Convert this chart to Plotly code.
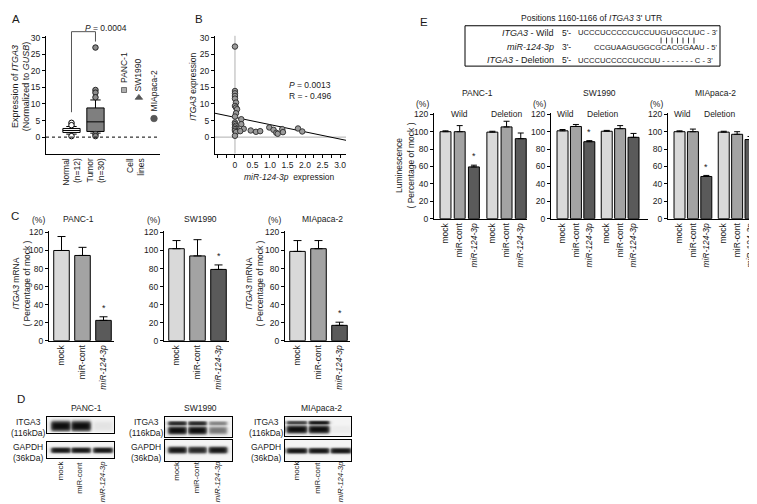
import plotly.graph_objects as go
import numpy as np

W, H = 757, 504
FONT = "Liberation Sans, Arial, sans-serif"
TXT = "#1a1a1a"
FS = 8.5

# ---------------- Panel A data ----------------
box_pos = [1, 2]
box_q1 = [1.4, 1.7]
box_median = [2.0, 4.6]
box_q3 = [2.6, 8.8]
box_lower = [0.9, 1.2]
box_upper = [3.2, 11.2]
normal_outliers = [4.3, 3.6, 0.3]
tumor_outliers = [27.0, 14.2, 13.4, 12.0, 0.9, 0.3]
a_ticks = ["Normal<br>(n=12)", "Tumor<br>(n=30)", "Cell<br>lines"]
cell_lines = ["PANC-1", "SW1990", "MIApaca-2"]
cell_x = [3.19, 3.81, 4.44]
cell_values = [14.2, 11.9, 5.6]
p_value_A = "0.0004"

# ---------------- Panel B data ----------------
mir_expr = [0, 0, 0, 0, 0, 0.03, 0, 0.03, 0.06, 0.03, 0, 0.18, 0, 0, 0.02, 0.18, 0, 0.05, 0, 0,
            0.25, 0.03, 0.15, 0, 0.45, 0.6, 0.72, 0.98, 1.1, 1.18, 1.22, 1.35, 1.37, 1.8, 1.92]
itga3_expr = [27.3, 13.9, 13.2, 12.4, 11.6, 10.4, 9.4, 8.9, 8.4, 7.2, 6.2, 5.4, 4.4, 3.9, 3.4, 3.9,
              2.9, 2.5, 2.4, 1.9, 2.5, 1.5, 1.8, 0.4, 2.0, 1.6, 1.8, 2.9, 2.2, 1.3, 1.0, 2.4, 1.5, 2.6, 1.7]
reg_intercept = 5.95
reg_slope = -2.18
p_value_B = "0.0013"
r_value_B = "- 0.496"

# ---------------- Panel C data ----------------
treatments = ["mock", "miR-cont", "<i>miR-124-3p</i>"]
lines_c = ["PANC-1", "SW1990", "MIApaca-2"]
c_mean = [[100, 94.5, 22.5], [102, 94, 79], [99, 102, 17]]
c_err = [[15.5, 9, 4], [9, 18, 5], [12, 9, 3.5]]

# ---------------- Panel D data (band intensities per lane) ----------------
blot_panc_itga3 = [1.0, 1.0, 0.06]
blot_panc_gapdh = [0.95, 0.95, 0.95]
blot_sw_itga3_upper = [0.85, 0.85, 0.4]
blot_sw_itga3_lower = [1.0, 1.0, 0.45]
blot_sw_gapdh = [0.95, 0.85, 0.95]
blot_mia_itga3_upper = [0.7, 0.95, 0.0]
blot_mia_itga3_lower = [1.0, 1.0, 0.03]
blot_mia_gapdh = [0.95, 0.95, 0.95]
lane_labels = ["mock", "miR-cont", "<i>miR-124-3p</i>"]

# ---------------- Panel E data ----------------
e_groups = ["Wild", "Deletion"]
e_panc_mean = [100, 100, 59.5, 99.5, 105.5, 92]
e_panc_err = [1, 7, 2, 1, 6.5, 6.5]
e_sw_mean = [101, 106, 88.5, 100.5, 103.5, 93.5]
e_sw_err = [1.5, 2.3, 1.2, 1, 3.5, 4.5]
e_mia_mean = [100, 100, 48.5, 99.5, 97, 91]
e_mia_err = [1, 3, 1.2, 1, 3, 3.5]
seq_wild = "UCCCUCCCCCUCCUUGUGCCUUC"
seq_mir = "CCGUAAGUGGCGCACGGAAU"
seq_del = "UCCCUCCCCCUCCUU - - - - - - - C"
seed_start, seed_len = 15, 7   # positions 1160-1166 inside the wild sequence

bar_colors = ["#d9d9d9", "#a3a3a3", "#5a5a5a"]

# ======================================================================
fig = go.Figure()
layout = dict(width=W, height=H, margin=dict(l=0, r=0, t=0, b=0),
              paper_bgcolor="white", plot_bgcolor="white", showlegend=False,
              font=dict(family=FONT, size=FS, color=TXT))
annotations = []
shapes = []

BASE = dict(showline=True, linecolor="black", linewidth=1.3, ticks="outside", ticklen=3,
            tickwidth=1, tickcolor="black", showgrid=False, zeroline=False,
            tickfont=dict(size=FS, family=FONT, color=TXT), fixedrange=True)


def set_axes(n, xpx, ypx, xr, yr, xkw=None, ykw=None):
    xn = "xaxis" if n == 1 else f"xaxis{n}"
    yn = "yaxis" if n == 1 else f"yaxis{n}"
    xid = "x" if n == 1 else f"x{n}"
    yid = "y" if n == 1 else f"y{n}"
    xa = dict(BASE, domain=[xpx[0] / W, xpx[1] / W], range=xr, anchor=yid)
    ya = dict(BASE, domain=[1 - ypx[1] / H, 1 - ypx[0] / H], range=yr, anchor=xid)
    xa.update(xkw or {})
    ya.update(ykw or {})
    layout[xn] = xa
    layout[yn] = ya
    return xid, yid


def px2paper(px, py):
    return px / W, 1 - py / H


def data2paper_x(n, v):
    xa = layout["xaxis" if n == 1 else f"xaxis{n}"]
    d0, d1 = xa["domain"]
    r0, r1 = xa["range"]
    return d0 + (v - r0) / (r1 - r0) * (d1 - d0)


def data2paper_y(n, v):
    ya = layout["yaxis" if n == 1 else f"yaxis{n}"]
    d0, d1 = ya["domain"]
    r0, r1 = ya["range"]
    return d0 + (v - r0) / (r1 - r0) * (d1 - d0)


def text(px, py, s, size=FS, xanchor="center", yanchor="middle", angle=0, align="center"):
    x, y = px2paper(px, py)
    annotations.append(dict(x=x, y=y, xref="paper", yref="paper", text=s, showarrow=False,
                            xanchor=xanchor, yanchor=yanchor, textangle=angle, align=align,
                            font=dict(size=size, family=FONT, color=TXT)))


# ---------------- Panel A ----------------
xa, ya = set_axes(1, (38, 152), (25, 145), [-0.0625, 4.69], [-5, 30.6],
                  xkw=dict(tickvals=[1, 2, 3.69], ticktext=a_ticks, tickangle=-90, ticks=""),
                  ykw=dict(tickvals=[0, 5, 10, 15, 20, 25, 30]))
fills = ["white", "#7f7f7f"]
for i in range(2):
    fig.add_trace(go.Box(x=[box_pos[i]], q1=[box_q1[i]], median=[box_median[i]], q3=[box_q3[i]],
                         lowerfence=[box_lower[i]], upperfence=[box_upper[i]], width=0.72,
                         whiskerwidth=0.6, fillcolor=fills[i], line=dict(color="black", width=1),
                         boxpoints=False, xaxis=xa, yaxis=ya, hoverinfo="skip"))
fig.add_trace(go.Scatter(x=[box_pos[0]] * len(normal_outliers), y=normal_outliers, mode="markers",
                         marker=dict(size=5.5, color="white", line=dict(color="black", width=1)),
                         xaxis=xa, yaxis=ya))
fig.add_trace(go.Scatter(x=[box_pos[1]] * len(tumor_outliers), y=tumor_outliers, mode="markers",
                         marker=dict(size=5.5, color="#8c8c8c", line=dict(color="#222", width=1)),
                         xaxis=xa, yaxis=ya))
fig.add_trace(go.Scatter(x=cell_x, y=cell_values, mode="markers",
                         marker=dict(size=[5, 6.5, 6.5], symbol=["square", "triangle-up", "circle"],
                                     color=["#8c8c8c", "#111", "#111"],
                                     line=dict(color="#111", width=0.8)),
                         xaxis=xa, yaxis=ya))
for cx, cv, nm in zip(cell_x, cell_values, cell_lines):
    annotations.append(dict(x=cx, y=cv + 1.4, xref=xa, yref=ya, text=nm, showarrow=False,
                            textangle=-90, xanchor="center", yanchor="bottom",
                            font=dict(size=FS, family=FONT, color=TXT)))
shapes.append(dict(type="line", xref=xa, yref=ya, x0=-0.0625, x1=4.69, y0=0, y1=0,
                   line=dict(color="black", width=1, dash="dot")))
# significance bracket
bx1, bx2 = data2paper_x(1, box_pos[0]), data2paper_x(1, box_pos[1])
by_top = px2paper(0, 21)[1]
shapes.append(dict(type="path", xref="paper", yref="paper",
                   path=f"M{bx1},{data2paper_y(1, 7.5)} L{bx1},{by_top} L{bx2},{by_top} L{bx2},{data2paper_y(1, 28.8)}",
                   line=dict(color="#555", width=1)))
annotations.append(dict(x=(bx1 + bx2) / 2, y=px2paper(0, 10)[1], xref="paper", yref="paper",
                        text=f"<i>P</i> = {p_value_A}", showarrow=False,
                        font=dict(size=FS, family=FONT, color=TXT)))
text(12.5, 77, "Expression of <i>ITGA3</i><br>(Normalized to <i>GUSB</i>)", size=9, angle=-90)
text(2, 0, "A", size=11.5, xanchor="left", yanchor="top")

# ---------------- Panel B ----------------
bt = np.arange(-0.5, 3.01, 0.25)
bl = ["" if (v < 0 or abs(v * 2 - round(v * 2)) > 1e-6) else ("0" if v == 0 else f"{v:.1f}") for v in bt]
xb, yb = set_axes(2, (207, 338), (25, 145), [-0.57, 3.17], [-5, 30.6],
                  xkw=dict(tickvals=list(bt), ticktext=bl),
                  ykw=dict(tickvals=[0, 5, 10, 15, 20, 25, 30]))
shapes.append(dict(type="line", xref=xb, yref=yb, x0=0, x1=0, y0=-5, y1=30.6,
                   line=dict(color="#9a9a9a", width=0.8), layer="below"))
shapes.append(dict(type="line", xref=xb, yref=yb, x0=-0.57, x1=3.17, y0=0, y1=0,
                   line=dict(color="#9a9a9a", width=0.8), layer="below"))
rx = np.array([-0.57, 3.17])
fig.add_trace(go.Scatter(x=rx, y=reg_intercept + reg_slope * rx, mode="lines",
                         line=dict(color="black", width=1), xaxis=xb, yaxis=yb))
fig.add_trace(go.Scatter(x=mir_expr, y=itga3_expr, mode="markers",
                         marker=dict(size=5.5, color="#9b9b9b", line=dict(color="#2a2a2a", width=0.9)),
                         xaxis=xb, yaxis=yb))
text(279, 75, f"<i>P</i> = {p_value_B}", xanchor="left")
text(279, 86, f"R = {r_value_B}", xanchor="left")
text(185, 77, "<i>ITGA3</i> expression", angle=-90)
text(281, 169, "<i>miR-124-3p</i>  expression")
text(185, 0, "B", size=11.5, xanchor="left", yanchor="top")

# ---------------- Panel C ----------------
c_starts = [41, 156, 277]
c_title_x = [70, 193, 314]
for i in range(3):
    n = 3 + i
    x0 = c_starts[i]
    xi, yi = set_axes(n, (x0, x0 + 65), (223.2, 335), [-0.595, 2.5], [0, 122],
                      xkw=dict(tickvals=[0, 1, 2], ticktext=treatments, tickangle=-90, ticks=""),
                      ykw=dict(tickvals=[0, 20, 40, 60, 80, 100, 120]))
    fig.add_trace(go.Bar(x=[0, 1, 2], y=c_mean[i], width=0.74,
                         marker=dict(color=bar_colors, line=dict(color="black", width=1)),
                         error_y=dict(type="data", array=c_err[i], arrayminus=[0, 0, 0], symmetric=False,
                                      color="black", thickness=1, width=4),
                         xaxis=xi, yaxis=yi))
    annotations.append(dict(x=2, y=c_mean[i][2] + c_err[i][2] + 2, xref=xi, yref=yi, text="*",
                            showarrow=False, yanchor="bottom", font=dict(size=9, family=FONT, color=TXT)))
    text(c_title_x[i], 211, lines_c[i])
    text(x0 - 2, 212, "(%)", xanchor="right")
text(14, 277, "<i>ITGA3</i> mRNA<br>( Percentage of mock )", angle=-90)
text(247, 277, "<i>ITGA3</i> mRNA<br>( Percentage of mock )", angle=-90)
text(1, 200, "C", size=11.5, xanchor="left", yanchor="top")

# ---------------- Panel D (western blots) ----------------
blots = [
    # x0, x1, y0, y1, lane centres (rel), half width, bands [(y rel, thickness, intensities)]
    (39, 106, 412.3, 428.3, [13, 33, 55], 9.5, [(9.3, 9, blot_panc_itga3)]),
    (39, 106, 437.7, 454, [13, 33, 55], 9.5, [(8.5, 5, blot_panc_gapdh)]),
    (157, 224, 412.7, 433, [11.5, 31.5, 52], 9, [(6.3, 4, blot_sw_itga3_upper), (13.3, 7, blot_sw_itga3_lower)]),
    (157, 224, 436, 457, [11.5, 31.5, 52], 9, [(10, 6, blot_sw_gapdh)]),
    (277, 343, 412.7, 431.7, [11, 33, 55], 10, [(5.6, 3.5, blot_mia_itga3_upper), (12.3, 7, blot_mia_itga3_lower)]),
    (277, 343, 436, 457, [11, 33, 55], 10, [(10.7, 5, blot_mia_gapdh)]),
]
for k, (x0, x1, y0, y1, lanes, hw, bands) in enumerate(blots):
    n = 9 + k
    wb, hb = x1 - x0, y1 - y0
    xi, yi = set_axes(n, (x0, x1), (y0, y1), [0, wb], [hb, 0],
                      xkw=dict(mirror=True, ticks="", showticklabels=False, linewidth=1.2),
                      ykw=dict(mirror=True, ticks="", showticklabels=False, linewidth=1.2))
    xs = np.arange(0.5, wb, 1.0)
    ys = np.arange(0.5, hb, 1.0)
    Z = np.zeros((len(ys), len(xs)))
    for yc, t, ints in bands:
        fy = np.exp(-np.log(2) * (np.abs(ys - yc) / (t / 2)) ** 3)
        for c, inten in zip(lanes, ints):
            fx = 1 / (1 + np.exp((np.abs(xs - c) - hw) / 1.0))
            Z = np.maximum(Z, inten * np.outer(fy, fx))
    fig.add_trace(go.Heatmap(x=xs, y=ys, z=Z, zmin=0, zmax=1, zsmooth="best", showscale=False,
                             colorscale=[[0, "#f4f4f4"], [0.5, "#6a6a6a"], [1, "#0e0e0e"]],
                             xaxis=xi, yaxis=yi, hoverinfo="skip"))
    if k % 2 == 1:
        for c, lab in zip(lanes, lane_labels):
            text(x0 + c, 456, lab, size=7.8, angle=-90, yanchor="top")
d_titles = [(78, "PANC-1"), (193, "SW1990"), (313, "MIApaca-2")]
for (tx, tn), k in zip(d_titles, [0, 2, 4]):
    text(tx, 403, tn)
    x0 = blots[k][0]
    text(x0 - 19, 423, "ITGA3<br>(116kDa)")
    text(x0 - 19, 449, "GAPDH<br>(36kDa)")
text(7, 386, "D", size=11.5, xanchor="left", yanchor="top")

# ---------------- Panel E ----------------
e_pos = [0, 1, 2, 3.3, 4.3, 5.3]
e_ticktext = treatments * 2
e_specs = [(426, 519, [-0.81, 5.74], 0.77, e_panc_mean, e_panc_err, "PANC-1", 470),
           (543, 640, [-0.86, 6.38], 0.82, e_sw_mean, e_sw_err, "SW1990", 591),
           (660, 757, [-0.86, 6.38], 0.82, e_mia_mean, e_mia_err, "MIApaca-2", 707)]
for i, (x0, x1, xr, bw, mean, err, nm, tx) in enumerate(e_specs):
    n = 6 + i
    xi, yi = set_axes(n, (x0, x1), (103.2, 211), xr, [0, 122],
                      xkw=dict(tickvals=e_pos, ticktext=e_ticktext, tickangle=-90, ticks=""),
                      ykw=dict(tickvals=[0, 20, 40, 60, 80, 100, 120]))
    fig.add_trace(go.Bar(x=e_pos, y=mean, width=bw,
                         marker=dict(color=bar_colors * 2, line=dict(color="black", width=1)),
                         error_y=dict(type="data", array=err, arrayminus=[0] * 6, symmetric=False,
                                      color="black", thickness=1, width=3),
                         xaxis=xi, yaxis=yi))
    annotations.append(dict(x=2, y=mean[2] + err[2] + 2, xref=xi, yref=yi, text="*",
                            showarrow=False, yanchor="bottom", font=dict(size=9, family=FONT, color=TXT)))
    text(tx, 83, nm)
    text(x0 - 3, 94, "(%)", xanchor="right")
    for g, gx in zip(e_groups, [1, 4.3]):
        annotations.append(dict(x=data2paper_x(n, gx), y=px2paper(0, 98)[1], xref="paper", yref="paper",
                                text=g, showarrow=False, font=dict(size=FS, family=FONT, color=TXT)))
text(397, 157, "Luminescence<br>( Percentage of mock )", angle=-90)
text(410, 3, "E", size=11.5, xanchor="left", yanchor="top")

# sequence box
text(583, 7, "Positions 1160-1166 of <i>ITGA3</i> 3' UTR")
x0p, y0p = px2paper(457, 15)
x1p, y1p = px2paper(712, 56)
shapes.append(dict(type="rect", xref="paper", yref="paper", x0=x0p, x1=x1p, y0=y1p, y1=y0p,
                   line=dict(color="black", width=1)))
SFS = 7.6
CW = 0.722 * SFS  # approx width of one nucleotide glyph
rows_y = [22, 37, 50]
NFS = 9
text(548, rows_y[0], "<i>ITGA3</i> - Wild", size=NFS, xanchor="right")
text(548, rows_y[1], "<i>miR-124-3p</i>", size=NFS, xanchor="right")
text(548, rows_y[2], "<i>ITGA3</i> - Deletion", size=NFS, xanchor="right")
text(552, rows_y[0], "5'-", xanchor="left")
text(552, rows_y[1], "3'-", xanchor="left")
text(552, rows_y[2], "5'-", xanchor="left")
seq_x = 568
text(seq_x, rows_y[0], seq_wild + " - 3'", size=SFS, xanchor="left")
text(seq_x + 3 * CW, rows_y[1], seq_mir + " - 5'", size=SFS, xanchor="left")
text(seq_x, rows_y[2], seq_del + " - 3'", size=SFS, xanchor="left")
_, pty0 = px2paper(0, 27)
_, pty1 = px2paper(0, 33)
for j in range(seed_start, seed_start + seed_len):
    bxp = px2paper(seq_x + (j + 0.5) * CW, 0)[0]
    shapes.append(dict(type="line", xref="paper", yref="paper", x0=bxp, x1=bxp, y0=pty0, y1=pty1,
                       line=dict(color="#222", width=0.9)))

layout["annotations"] = annotations
layout["shapes"] = shapes
fig.update_layout(**layout)
fig.write_html("out.html")
